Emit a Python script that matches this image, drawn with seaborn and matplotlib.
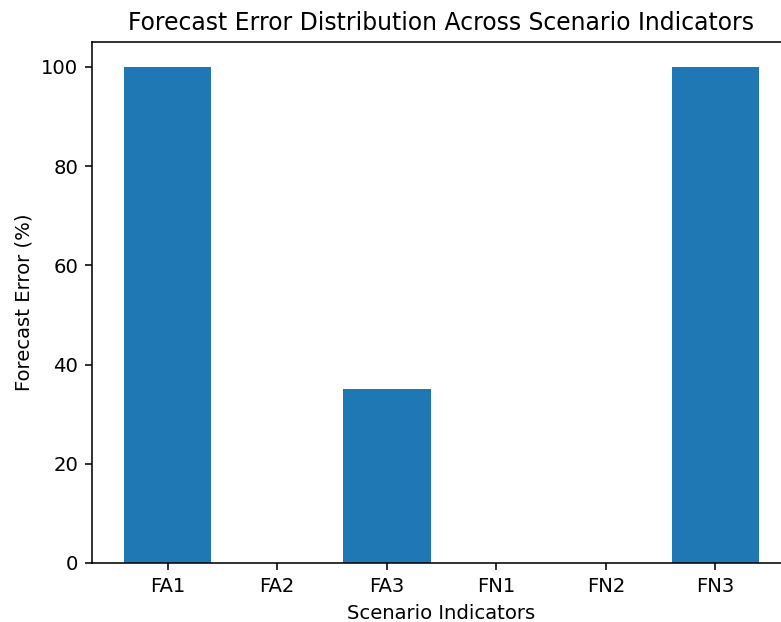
import matplotlib
matplotlib.use('Agg')
from matplotlib import pyplot as plt
import seaborn as sns
import pandas as pd

indicators = ["FA1", "FA2", "FA3", "FN1", "FN2", "FN3"]
errors = [100, 0, 35, 0, 0, 100]

data = pd.DataFrame({"Indicator": indicators, "Error": errors})

# original looks like a 100dpi figure scaled up ~1.41x and cropped on the right
dpi = 141
fig = plt.figure(figsize=(781 / dpi, 622 / dpi), dpi=dpi)
ax = fig.add_axes([0.1178, 0.0949, 0.895, 0.8376])

sns.barplot(data=data, x="Indicator", y="Error", color="#1f77b4", saturation=1, width=0.8, ax=ax)
ax.set_xlim(-0.69, 5.69)
ax.set_ylim(0, 105)
ax.set_xlabel("Scenario Indicators")
ax.set_ylabel("Forecast Error (%)")
ax.set_title("Forecast Error Distribution Across Scenario Indicators")

plt.savefig("out.png", dpi=dpi)
